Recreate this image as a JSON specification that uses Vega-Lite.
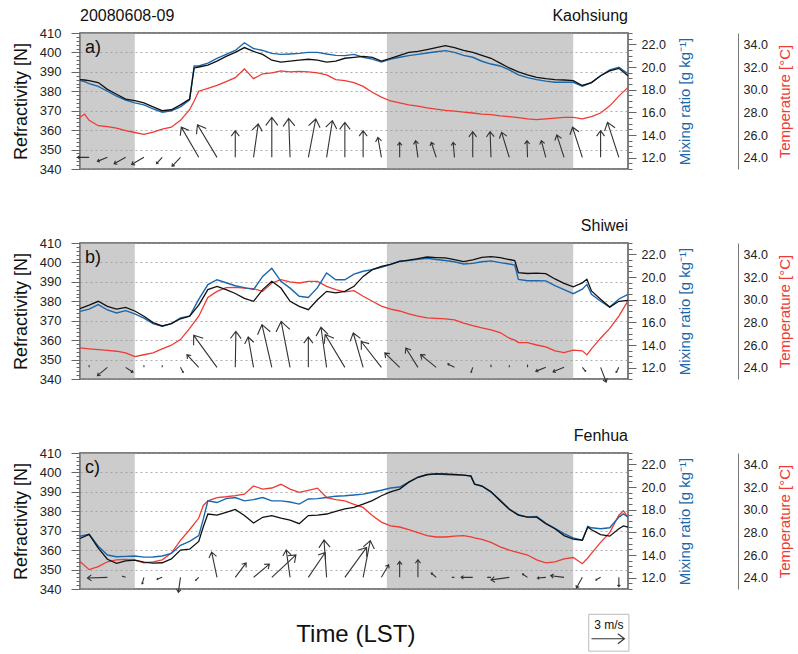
{
"$schema": "https://vega.github.io/schema/vega-lite/v6.json",
"padding": {"left": 11, "top": 7, "right": 0, "bottom": 0},
"config": {
  "font": "Liberation Sans",
  "view": {"stroke": "#555", "strokeWidth": 1.5},
  "axis": {"labelFont": "Liberation Sans", "titleFont": "Liberation Sans", "titleFontWeight": "normal", "labelColor": "#222", "titleColor": "#111"}
},
"datasets": {
  "night": [{"s": 2, "e": 5}, {"s": 18.8, "e": 29}],
  "a": [
{"t":2,"N":386,"q":18.8,"T":27.56},{"t":2.25,"N":385.8,"q":18.71,"T":27.85},{"t":2.5,"N":385.5,"q":18.54,"T":27.29},{"t":3,"N":384.5,"q":18.29,"T":26.82},{"t":3.5,"N":381,"q":17.86,"T":26.74},{"t":4,"N":378.5,"q":17.43,"T":26.6},{"t":4.5,"N":376,"q":17.09,"T":26.38},{"t":5,"N":375.2,"q":16.83,"T":26.22},{"t":5.5,"N":374,"q":16.66,"T":26.05},{"t":6,"N":372,"q":16.31,"T":26.26},{"t":6.5,"N":370,"q":16.01,"T":26.51},{"t":7,"N":370.5,"q":16.14,"T":26.69},{"t":7.5,"N":373,"q":16.49,"T":27.29},{"t":8,"N":376,"q":17.09,"T":28.23},{"t":8.25,"N":392,"q":20.09,"T":29.0},{"t":8.5,"N":392.5,"q":20.09,"T":29.86},{"t":9,"N":393.5,"q":20.34,"T":30.11},{"t":9.5,"N":395.5,"q":20.77,"T":30.37},{"t":10,"N":398,"q":21.11,"T":30.71},{"t":10.5,"N":400,"q":21.46,"T":31.06},{"t":11,"N":402.5,"q":22.14,"T":31.83},{"t":11.5,"N":400.5,"q":21.63,"T":30.97},{"t":12,"N":399,"q":21.46,"T":31.4},{"t":12.5,"N":396,"q":21.2,"T":31.49},{"t":13,"N":395,"q":21.11,"T":31.66},{"t":13.5,"N":395.5,"q":21.15,"T":31.57},{"t":14,"N":396,"q":21.2,"T":31.62},{"t":14.5,"N":396.5,"q":21.29,"T":31.57},{"t":15,"N":396,"q":21.29,"T":31.49},{"t":15.5,"N":395,"q":21.15,"T":31.31},{"t":16,"N":395.5,"q":21.03,"T":30.89},{"t":16.5,"N":397,"q":21.0,"T":30.8},{"t":17,"N":397.5,"q":21.11,"T":30.63},{"t":17.5,"N":398,"q":20.86,"T":30.29},{"t":18,"N":397.5,"q":20.69,"T":29.77},{"t":18.5,"N":395.5,"q":20.43,"T":29.34},{"t":19,"N":397,"q":20.69,"T":29.0},{"t":19.5,"N":398.5,"q":20.86,"T":28.83},{"t":20,"N":400,"q":21.0,"T":28.66},{"t":20.5,"N":400.5,"q":21.11,"T":28.54},{"t":21,"N":401.5,"q":21.23,"T":28.4},{"t":21.5,"N":402.5,"q":21.34,"T":28.28},{"t":22,"N":403.5,"q":21.44,"T":28.18},{"t":22.5,"N":402.5,"q":21.29,"T":28.11},{"t":23,"N":401,"q":21.03,"T":28.02},{"t":23.5,"N":400,"q":20.86,"T":27.94},{"t":24,"N":398.5,"q":20.51,"T":27.85},{"t":24.5,"N":397,"q":20.26,"T":27.8},{"t":25,"N":394.5,"q":20.09,"T":27.68},{"t":25.5,"N":392,"q":19.74,"T":27.63},{"t":26,"N":390,"q":19.31,"T":27.54},{"t":26.5,"N":388.5,"q":19.06,"T":27.42},{"t":27,"N":387.2,"q":18.89,"T":27.35},{"t":27.5,"N":386.5,"q":18.75,"T":27.42},{"t":28,"N":386,"q":18.65,"T":27.49},{"t":28.5,"N":385.8,"q":18.65,"T":27.56},{"t":29,"N":385.5,"q":18.65,"T":27.56},{"t":29.5,"N":383,"q":18.3,"T":27.42},{"t":30,"N":384.5,"q":18.63,"T":27.63},{"t":30.5,"N":388,"q":19.23,"T":27.94},{"t":31,"N":390.5,"q":19.74,"T":28.57},{"t":31.5,"N":391.8,"q":19.97,"T":29.43},{"t":32,"N":388,"q":19.4,"T":30.2}
  ],
  "b": [
{"t":2,"N":376.2,"q":16.97,"T":25.74},{"t":2.5,"N":378,"q":17.17,"T":25.66},{"t":3,"N":380,"q":17.57,"T":25.59},{"t":3.5,"N":377.4,"q":17.09,"T":25.52},{"t":4,"N":376,"q":16.83,"T":25.45},{"t":4.5,"N":376.9,"q":17.03,"T":25.31},{"t":5,"N":375,"q":16.74,"T":24.97},{"t":5.5,"N":372.3,"q":16.38,"T":25.14},{"t":6,"N":369,"q":15.89,"T":25.31},{"t":6.5,"N":367.3,"q":15.65,"T":25.66},{"t":7,"N":368.5,"q":15.89,"T":25.98},{"t":7.5,"N":371,"q":16.4,"T":26.48},{"t":8,"N":372.3,"q":16.54,"T":27.46},{"t":8.5,"N":378,"q":18.03,"T":28.54},{"t":9,"N":386,"q":19.33,"T":30.2},{"t":9.5,"N":387.7,"q":19.76,"T":30.73},{"t":10,"N":386,"q":19.49,"T":31.06},{"t":10.5,"N":384,"q":19.23,"T":31.09},{"t":11,"N":381.5,"q":19.06,"T":31.02},{"t":11.5,"N":380,"q":18.89,"T":30.97},{"t":12,"N":386,"q":20.05,"T":30.73},{"t":12.5,"N":390.3,"q":20.77,"T":31.47},{"t":13,"N":386.8,"q":19.62,"T":31.76},{"t":13.5,"N":380,"q":19.02,"T":31.57},{"t":14,"N":377.4,"q":18.3,"T":31.47},{"t":14.5,"N":375.7,"q":18.2,"T":31.62},{"t":15,"N":380.8,"q":19.06,"T":31.62},{"t":15.5,"N":385.1,"q":20.36,"T":31.18},{"t":16,"N":384.3,"q":19.76,"T":30.89},{"t":16.5,"N":385.1,"q":19.76,"T":30.68},{"t":17,"N":387.7,"q":20.26,"T":30.8},{"t":17.5,"N":392.8,"q":20.51,"T":30.3},{"t":18,"N":396.3,"q":20.65,"T":29.86},{"t":18.5,"N":398,"q":20.86,"T":29.43},{"t":19,"N":399,"q":21.11,"T":29.17},{"t":19.5,"N":400.5,"q":21.39,"T":29.0},{"t":20,"N":401.2,"q":21.46,"T":28.74},{"t":20.5,"N":402,"q":21.56,"T":28.55},{"t":21,"N":402.8,"q":21.65,"T":28.4},{"t":21.5,"N":402.5,"q":21.54,"T":28.35},{"t":22,"N":402.3,"q":21.46,"T":28.3},{"t":22.5,"N":401.5,"q":21.34,"T":28.21},{"t":23,"N":400.4,"q":21.15,"T":27.94},{"t":23.5,"N":401.3,"q":21.2,"T":27.71},{"t":24,"N":402.6,"q":21.34,"T":27.51},{"t":24.5,"N":403,"q":21.42,"T":27.34},{"t":25,"N":402.5,"q":21.27,"T":27.1},{"t":25.5,"N":401.5,"q":21.15,"T":26.6},{"t":25.8,"N":401,"q":21.06,"T":26.43},{"t":26,"N":394.7,"q":19.79,"T":26.21},{"t":26.5,"N":394.3,"q":19.67,"T":26.21},{"t":27,"N":394.5,"q":19.67,"T":26.0},{"t":27.5,"N":394.2,"q":19.66,"T":25.83},{"t":28,"N":391.5,"q":19.23,"T":25.49},{"t":28.5,"N":389.2,"q":18.89,"T":25.33},{"t":29,"N":387.4,"q":18.53,"T":25.54},{"t":29.5,"N":389.5,"q":18.92,"T":25.49},{"t":29.75,"N":391.3,"q":19.35,"T":25.13},{"t":30,"N":385.3,"q":18.47,"T":25.66},{"t":30.5,"N":381,"q":17.86,"T":26.6},{"t":31,"N":377,"q":17.34,"T":27.46},{"t":31.5,"N":380,"q":18.06,"T":28.55},{"t":32,"N":380.5,"q":18.47,"T":29.89}
  ],
  "c": [
{"t":2,"N":366,"q":15.65,"T":25.42},{"t":2.5,"N":368.1,"q":15.82,"T":24.71},{"t":3,"N":361,"q":14.77,"T":24.97},{"t":3.5,"N":355.3,"q":14.0,"T":25.4},{"t":4,"N":353.2,"q":13.85,"T":25.57},{"t":4.5,"N":354.5,"q":13.88,"T":25.62},{"t":5,"N":354.9,"q":13.91,"T":25.55},{"t":5.5,"N":353.8,"q":13.81,"T":25.31},{"t":6,"N":353.3,"q":13.83,"T":25.4},{"t":6.5,"N":353.5,"q":13.91,"T":25.57},{"t":7,"N":355.5,"q":14.14,"T":26.17},{"t":7.5,"N":360,"q":14.86,"T":27.29},{"t":8,"N":360.5,"q":15.2,"T":28.23},{"t":8.5,"N":364.5,"q":15.71,"T":29.26},{"t":8.75,"N":372,"q":17.17,"T":30.37},{"t":9,"N":378.6,"q":18.78,"T":30.78},{"t":9.5,"N":378,"q":18.63,"T":31.07},{"t":10,"N":379.5,"q":18.97,"T":31.14},{"t":10.5,"N":381,"q":19.07,"T":31.23},{"t":11,"N":377.8,"q":18.78,"T":31.37},{"t":11.5,"N":374,"q":18.89,"T":32.09},{"t":12,"N":376.9,"q":19.07,"T":31.81},{"t":12.5,"N":377.8,"q":18.78,"T":31.91},{"t":13,"N":376.5,"q":18.78,"T":32.24},{"t":13.5,"N":375.5,"q":18.68,"T":31.81},{"t":14,"N":373.6,"q":18.49,"T":31.52},{"t":14.5,"N":377.8,"q":18.94,"T":31.71},{"t":15,"N":378,"q":18.97,"T":31.9},{"t":15.5,"N":378.6,"q":19.07,"T":31.07},{"t":16,"N":380,"q":19.19,"T":30.89},{"t":16.5,"N":381.2,"q":19.23,"T":30.78},{"t":17,"N":382,"q":19.3,"T":30.46},{"t":17.5,"N":383.7,"q":19.37,"T":30.2},{"t":18,"N":385.5,"q":19.54,"T":29.48},{"t":18.5,"N":388,"q":19.71,"T":28.9},{"t":19,"N":390,"q":19.91,"T":28.57},{"t":19.5,"N":391.4,"q":20.0,"T":28.47},{"t":20,"N":395,"q":20.43,"T":28.23},{"t":20.5,"N":397.5,"q":20.86,"T":27.97},{"t":21,"N":398.8,"q":21.11,"T":27.71},{"t":21.5,"N":399.3,"q":21.17,"T":27.59},{"t":22,"N":399.2,"q":21.1,"T":27.59},{"t":22.5,"N":399,"q":21.05,"T":27.66},{"t":23,"N":398.6,"q":21.05,"T":27.71},{"t":23.4,"N":398.1,"q":20.98,"T":27.59},{"t":23.6,"N":394,"q":20.26,"T":27.51},{"t":24,"N":393,"q":20.09,"T":27.37},{"t":24.5,"N":390,"q":19.57,"T":27.11},{"t":25,"N":385.4,"q":18.85,"T":26.72},{"t":25.5,"N":381,"q":18.06,"T":26.43},{"t":26,"N":378,"q":17.55,"T":26.21},{"t":26.5,"N":377,"q":17.34,"T":26.0},{"t":27,"N":377,"q":17.39,"T":25.57},{"t":27.5,"N":373.6,"q":16.81,"T":25.31},{"t":28,"N":371,"q":16.35,"T":25.4},{"t":28.5,"N":367.5,"q":15.89,"T":25.66},{"t":29,"N":365.7,"q":15.51,"T":25.78},{"t":29.5,"N":365.1,"q":15.3,"T":25.23},{"t":29.8,"N":371.9,"q":16.52,"T":25.74},{"t":30,"N":370.5,"q":16.4,"T":26.14},{"t":30.5,"N":368,"q":16.31,"T":27.11},{"t":31,"N":367.2,"q":16.4,"T":27.97},{"t":31.5,"N":371,"q":17.34,"T":29.51},{"t":31.75,"N":372.5,"q":17.62,"T":29.91},{"t":32,"N":371.9,"q":17.33,"T":29.33}
  ],
  "wa": [
{"t":2.5,"spd":1.06,"dir":270},{"t":3.5,"spd":0.98,"dir":248},{"t":4.5,"spd":1.2,"dir":241},{"t":5.5,"spd":1.29,"dir":240},{"t":6.5,"spd":0.77,"dir":222},{"t":7.5,"spd":1.12,"dir":223},{"t":8.5,"spd":3.17,"dir":330},{"t":9.5,"spd":3.45,"dir":329},{"t":10.5,"spd":2.42,"dir":0},{"t":11.5,"spd":3.06,"dir":8},{"t":12.5,"spd":3.64,"dir":0},{"t":13.5,"spd":3.55,"dir":358},{"t":14.5,"spd":3.55,"dir":11},{"t":15.5,"spd":3.37,"dir":9},{"t":16.5,"spd":3.18,"dir":0},{"t":17.5,"spd":2.42,"dir":0},{"t":18.5,"spd":1.84,"dir":350},{"t":19.5,"spd":1.36,"dir":0},{"t":20.5,"spd":1.53,"dir":352},{"t":21.5,"spd":1.44,"dir":342},{"t":22.5,"spd":1.37,"dir":355},{"t":23.5,"spd":2.33,"dir":0},{"t":24.5,"spd":2.33,"dir":358},{"t":25.5,"spd":2.38,"dir":343},{"t":26.5,"spd":1.52,"dir":358},{"t":27.5,"spd":1.57,"dir":345},{"t":28.5,"spd":2.14,"dir":342},{"t":29.5,"spd":2.88,"dir":342},{"t":30.5,"spd":2.42,"dir":0},{"t":31.5,"spd":3.34,"dir":342}
  ],
  "wb": [
{"t":2.5,"spd":0.15,"dir":0},{"t":3.5,"spd":1.18,"dir":230},{"t":4.5,"spd":0.8,"dir":124},{"t":5.5,"spd":0.15,"dir":0},{"t":6.5,"spd":0.15,"dir":0},{"t":7.5,"spd":0.52,"dir":152},{"t":8.5,"spd":1.57,"dir":317},{"t":9.5,"spd":3.6,"dir":324},{"t":10.5,"spd":3.27,"dir":1},{"t":11.5,"spd":2.8,"dir":350},{"t":12.5,"spd":3.98,"dir":347},{"t":13.5,"spd":4.25,"dir":349},{"t":14.5,"spd":2.76,"dir":0},{"t":15.5,"spd":3.68,"dir":352},{"t":16.5,"spd":3.48,"dir":329},{"t":17.5,"spd":3.25,"dir":344},{"t":18.5,"spd":2.98,"dir":322},{"t":19.5,"spd":1.88,"dir":314},{"t":20.5,"spd":2.08,"dir":328},{"t":21.5,"spd":1.83,"dir":309},{"t":22.5,"spd":0.68,"dir":297},{"t":23.5,"spd":0.48,"dir":198},{"t":24.5,"spd":0.2,"dir":0},{"t":25.5,"spd":0.15,"dir":0},{"t":26.5,"spd":0.2,"dir":0},{"t":27.5,"spd":0.98,"dir":248},{"t":28.5,"spd":1.08,"dir":248},{"t":29.5,"spd":0.47,"dir":140},{"t":30.5,"spd":1.43,"dir":159},{"t":31.5,"spd":0.52,"dir":208}
  ],
  "wc": [
{"t":3.5,"spd":1.82,"dir":268},{"t":4.5,"spd":0.3,"dir":290},{"t":5.5,"spd":0.62,"dir":195},{"t":6.5,"spd":0.5,"dir":250},{"t":7.5,"spd":1.38,"dir":188},{"t":8.5,"spd":0.4,"dir":225},{"t":9.5,"spd":2.34,"dir":348},{"t":10.5,"spd":1.64,"dir":37},{"t":11.5,"spd":1.88,"dir":50},{"t":12.5,"spd":3.0,"dir":47},{"t":13.5,"spd":2.52,"dir":352},{"t":14.5,"spd":2.73,"dir":34},{"t":15.5,"spd":3.4,"dir":356},{"t":16.5,"spd":3.36,"dir":36},{"t":17.5,"spd":3.4,"dir":11},{"t":18.5,"spd":1.32,"dir":30},{"t":19.5,"spd":1.45,"dir":0},{"t":20.5,"spd":1.6,"dir":0},{"t":21.5,"spd":0.6,"dir":311},{"t":22.5,"spd":0.2,"dir":270},{"t":23.5,"spd":1.06,"dir":270},{"t":24.5,"spd":0.3,"dir":270},{"t":25.5,"spd":1.68,"dir":262},{"t":26.5,"spd":0.55,"dir":304},{"t":27.5,"spd":0.76,"dir":265},{"t":28.5,"spd":1.22,"dir":277},{"t":29.5,"spd":1.11,"dir":209},{"t":30.5,"spd":0.5,"dir":240},{"t":31.5,"spd":0.85,"dir":180}
  ]
},
"bounds": "flush",
"spacing": 74,
"resolve": {"scale": {"x": "independent", "y": "independent", "size": "independent", "angle": "independent"}},
"vconcat": [
 {
  "width": 548, "height": 136,
  "resolve": {"scale": {"y": "independent"}},
  "layer": [
   {"data": {"name": "night"}, "mark": {"type": "rect", "color": "#999", "opacity": 0.5},
    "encoding": {"x": {"field": "s", "type": "quantitative", "scale": {"domain": [2, 32], "nice": false, "zero": false},
      "axis": {"values": [2,3,4,5,6,7,8,9,10,11,12,13,14,15,16,17,18,19,20,21,22,23,24,25,26,27,28,29,30,31,32], "labelExpr": "(datum.value - 2) % 3 == 0 ? '' + (datum.value % 24) : ''", "grid": true, "gridDash": [2, 3], "gridColor": "#999", "gridOpacity": 0.8, "tickSize": 8, "tickColor": "#666", "domain": false, "labelFontSize": 13.5, "labelPadding": 4, "labelFlush": false, "labelOverlap": false, "title": null}},
     "x2": {"field": "e"}}},
   {"data": {"name": "a"}, "mark": {"type": "line", "color": "#ee3b34", "strokeWidth": 1.3},
    "encoding": {"x": {"field": "t", "type": "quantitative", "axis": null},
     "y": {"field": "T", "type": "quantitative", "scale": {"domain": [23, 35], "nice": false, "zero": false},
      "axis": {"orient": "right", "offset": 110, "values": [24, 26, 28, 30, 32, 34], "format": ".1f", "ticks": false, "domain": true, "domainColor": "#777", "grid": false, "labelPadding": 5, "labelFontSize": 12.5, "title": "Temperature [°C]", "titleColor": "#ee3b34", "titleFontSize": 15, "titleAngle": 270, "titleBaseline": "top", "titlePadding": 10}}}},
   {"data": {"name": "a"}, "mark": {"type": "line", "color": "#1a67ad", "strokeWidth": 1.4},
    "encoding": {"x": {"field": "t", "type": "quantitative", "axis": null},
     "y": {"field": "q", "type": "quantitative", "scale": {"domain": [11, 23], "nice": false, "zero": false},
      "axis": {"orient": "right", "values": [11,11.5,12,12.5,13,13.5,14,14.5,15,15.5,16,16.5,17,17.5,18,18.5,19,19.5,20,20.5,21,21.5,22,22.5,23], "labelExpr": "datum.value % 2 == 0 ? format(datum.value, '.1f') : ''", "tickSize": {"condition": {"test": "datum.value % 2 == 0", "value": 8}, "value": 4}, "tickColor": "#666", "domain": false, "grid": false, "labelFontSize": 12.5, "labelPadding": 5, "labelFlush": false, "labelOverlap": false, "title": "Mixing ratio [g kg⁻¹]", "titleColor": "#1a67ad", "titleFontSize": 15, "titleAngle": 270, "titleBaseline": "top", "titlePadding": 12}}}},
   {"data": {"name": "a"}, "mark": {"type": "line", "color": "#111", "strokeWidth": 1.3},
    "encoding": {"x": {"field": "t", "type": "quantitative", "axis": null},
     "y": {"field": "N", "type": "quantitative", "scale": {"domain": [340, 410], "nice": false, "zero": false},
      "axis": {"values": [340,342,344,346,348,350,352,354,356,358,360,362,364,366,368,370,372,374,376,378,380,382,384,386,388,390,392,394,396,398,400,402,404,406,408,410], "labelExpr": "datum.value % 10 == 0 ? '' + datum.value : ''", "tickSize": {"condition": {"test": "datum.value % 10 == 0", "value": 9}, "value": 4}, "tickColor": "#666", "grid": true, "gridDash": [2, 3], "gridColor": "#999", "gridOpacity": {"condition": {"test": "datum.value % 10 == 0", "value": 0.8}, "value": 0}, "domain": false, "labelFontSize": 13, "labelPadding": 10, "labelFlush": false, "labelOverlap": false, "title": "Refractivity [N]", "titleFontSize": 18, "titlePadding": 9}}}},
   {"data": {"name": "wa"}, "mark": {"type": "point", "shape": "M0,0L0,-1M-0.15,-0.8L0,-1L0.15,-0.8", "filled": false, "stroke": "#333", "strokeWidth": 1.1, "opacity": 1},
    "encoding": {"x": {"field": "t", "type": "quantitative", "axis": null},
     "y": {"datum": 346, "type": "quantitative", "scale": {"domain": [340, 410], "nice": false, "zero": false}, "axis": null},
     "size": {"field": "spd", "type": "quantitative", "scale": {"type": "pow", "exponent": 2, "domain": [0, 3], "range": [0, 4356]}, "legend": null},
     "angle": {"field": "dir", "type": "quantitative", "scale": {"domain": [0, 360], "range": [0, 360]}, "legend": null}}},
   {"data": {"values": [{"lab": "a)"}]}, "mark": {"type": "text", "fontSize": 18, "align": "left", "baseline": "top", "dx": 5, "dy": 6, "color": "#111"},
    "encoding": {"x": {"datum": 2, "type": "quantitative", "axis": null}, "y": {"datum": 410, "type": "quantitative", "scale": {"domain": [340, 410], "nice": false, "zero": false}, "axis": null}, "text": {"field": "lab"}}},
   {"data": {"values": [{"lab": "20080608-09"}]}, "mark": {"type": "text", "fontSize": 16, "align": "left", "baseline": "alphabetic", "dy": -12, "color": "#111"},
    "encoding": {"x": {"datum": 2, "type": "quantitative", "axis": null}, "y": {"datum": 410, "type": "quantitative", "scale": {"domain": [340, 410], "nice": false, "zero": false}, "axis": null}, "text": {"field": "lab"}}},
   {"data": {"values": [{"lab": "Kaohsiung"}]}, "mark": {"type": "text", "fontSize": 16, "align": "right", "baseline": "alphabetic", "dy": -12, "color": "#111"},
    "encoding": {"x": {"datum": 32, "type": "quantitative", "axis": null}, "y": {"datum": 410, "type": "quantitative", "scale": {"domain": [340, 410], "nice": false, "zero": false}, "axis": null}, "text": {"field": "lab"}}}
  ]
 },
 {
  "width": 548, "height": 136,
  "resolve": {"scale": {"y": "independent"}},
  "layer": [
   {"data": {"name": "night"}, "mark": {"type": "rect", "color": "#999", "opacity": 0.5},
    "encoding": {"x": {"field": "s", "type": "quantitative", "scale": {"domain": [2, 32], "nice": false, "zero": false},
      "axis": {"values": [2,3,4,5,6,7,8,9,10,11,12,13,14,15,16,17,18,19,20,21,22,23,24,25,26,27,28,29,30,31,32], "labelExpr": "(datum.value - 2) % 3 == 0 ? '' + (datum.value % 24) : ''", "grid": true, "gridDash": [2, 3], "gridColor": "#999", "gridOpacity": 0.8, "tickSize": 8, "tickColor": "#666", "domain": false, "labelFontSize": 13.5, "labelPadding": 4, "labelFlush": false, "labelOverlap": false, "title": null}},
     "x2": {"field": "e"}}},
   {"data": {"name": "b"}, "mark": {"type": "line", "color": "#ee3b34", "strokeWidth": 1.3},
    "encoding": {"x": {"field": "t", "type": "quantitative", "axis": null},
     "y": {"field": "T", "type": "quantitative", "scale": {"domain": [23, 35], "nice": false, "zero": false},
      "axis": {"orient": "right", "offset": 110, "values": [24, 26, 28, 30, 32, 34], "format": ".1f", "ticks": false, "domain": true, "domainColor": "#777", "grid": false, "labelPadding": 5, "labelFontSize": 12.5, "title": "Temperature [°C]", "titleColor": "#ee3b34", "titleFontSize": 15, "titleAngle": 270, "titleBaseline": "top", "titlePadding": 10}}}},
   {"data": {"name": "b"}, "mark": {"type": "line", "color": "#1a67ad", "strokeWidth": 1.4},
    "encoding": {"x": {"field": "t", "type": "quantitative", "axis": null},
     "y": {"field": "q", "type": "quantitative", "scale": {"domain": [11, 23], "nice": false, "zero": false},
      "axis": {"orient": "right", "values": [11,11.5,12,12.5,13,13.5,14,14.5,15,15.5,16,16.5,17,17.5,18,18.5,19,19.5,20,20.5,21,21.5,22,22.5,23], "labelExpr": "datum.value % 2 == 0 ? format(datum.value, '.1f') : ''", "tickSize": {"condition": {"test": "datum.value % 2 == 0", "value": 8}, "value": 4}, "tickColor": "#666", "domain": false, "grid": false, "labelFontSize": 12.5, "labelPadding": 5, "labelFlush": false, "labelOverlap": false, "title": "Mixing ratio [g kg⁻¹]", "titleColor": "#1a67ad", "titleFontSize": 15, "titleAngle": 270, "titleBaseline": "top", "titlePadding": 12}}}},
   {"data": {"name": "b"}, "mark": {"type": "line", "color": "#111", "strokeWidth": 1.3},
    "encoding": {"x": {"field": "t", "type": "quantitative", "axis": null},
     "y": {"field": "N", "type": "quantitative", "scale": {"domain": [340, 410], "nice": false, "zero": false},
      "axis": {"values": [340,342,344,346,348,350,352,354,356,358,360,362,364,366,368,370,372,374,376,378,380,382,384,386,388,390,392,394,396,398,400,402,404,406,408,410], "labelExpr": "datum.value % 10 == 0 ? '' + datum.value : ''", "tickSize": {"condition": {"test": "datum.value % 10 == 0", "value": 9}, "value": 4}, "tickColor": "#666", "grid": true, "gridDash": [2, 3], "gridColor": "#999", "gridOpacity": {"condition": {"test": "datum.value % 10 == 0", "value": 0.8}, "value": 0}, "domain": false, "labelFontSize": 13, "labelPadding": 10, "labelFlush": false, "labelOverlap": false, "title": "Refractivity [N]", "titleFontSize": 18, "titlePadding": 9}}}},
   {"data": {"name": "wb"}, "mark": {"type": "point", "shape": "M0,0L0,-1M-0.15,-0.8L0,-1L0.15,-0.8", "filled": false, "stroke": "#333", "strokeWidth": 1.1, "opacity": 1},
    "encoding": {"x": {"field": "t", "type": "quantitative", "axis": null},
     "y": {"datum": 346, "type": "quantitative", "scale": {"domain": [340, 410], "nice": false, "zero": false}, "axis": null},
     "size": {"field": "spd", "type": "quantitative", "scale": {"type": "pow", "exponent": 2, "domain": [0, 3], "range": [0, 4356]}, "legend": null},
     "angle": {"field": "dir", "type": "quantitative", "scale": {"domain": [0, 360], "range": [0, 360]}, "legend": null}}},
   {"data": {"values": [{"lab": "b)"}]}, "mark": {"type": "text", "fontSize": 18, "align": "left", "baseline": "top", "dx": 5, "dy": 6, "color": "#111"},
    "encoding": {"x": {"datum": 2, "type": "quantitative", "axis": null}, "y": {"datum": 410, "type": "quantitative", "scale": {"domain": [340, 410], "nice": false, "zero": false}, "axis": null}, "text": {"field": "lab"}}},
   {"data": {"values": [{"lab": "Shiwei"}]}, "mark": {"type": "text", "fontSize": 16, "align": "right", "baseline": "alphabetic", "dy": -12, "color": "#111"},
    "encoding": {"x": {"datum": 32, "type": "quantitative", "axis": null}, "y": {"datum": 410, "type": "quantitative", "scale": {"domain": [340, 410], "nice": false, "zero": false}, "axis": null}, "text": {"field": "lab"}}}
  ]
 },
 {
  "width": 548, "height": 136,
  "resolve": {"scale": {"y": "independent"}},
  "layer": [
   {"data": {"name": "night"}, "mark": {"type": "rect", "color": "#999", "opacity": 0.5},
    "encoding": {"x": {"field": "s", "type": "quantitative", "scale": {"domain": [2, 32], "nice": false, "zero": false},
      "axis": {"values": [2,3,4,5,6,7,8,9,10,11,12,13,14,15,16,17,18,19,20,21,22,23,24,25,26,27,28,29,30,31,32], "labelExpr": "(datum.value - 2) % 3 == 0 ? '' + (datum.value % 24) : ''", "grid": true, "gridDash": [2, 3], "gridColor": "#999", "gridOpacity": 0.8, "tickSize": 8, "tickColor": "#666", "domain": false, "labelFontSize": 13.5, "labelPadding": 4, "labelFlush": false, "labelOverlap": false, "title": null}},
     "x2": {"field": "e"}}},
   {"data": {"name": "c"}, "mark": {"type": "line", "color": "#ee3b34", "strokeWidth": 1.3},
    "encoding": {"x": {"field": "t", "type": "quantitative", "axis": null},
     "y": {"field": "T", "type": "quantitative", "scale": {"domain": [23, 35], "nice": false, "zero": false},
      "axis": {"orient": "right", "offset": 110, "values": [24, 26, 28, 30, 32, 34], "format": ".1f", "ticks": false, "domain": true, "domainColor": "#777", "grid": false, "labelPadding": 5, "labelFontSize": 12.5, "title": "Temperature [°C]", "titleColor": "#ee3b34", "titleFontSize": 15, "titleAngle": 270, "titleBaseline": "top", "titlePadding": 10}}}},
   {"data": {"name": "c"}, "mark": {"type": "line", "color": "#1a67ad", "strokeWidth": 1.4},
    "encoding": {"x": {"field": "t", "type": "quantitative", "axis": null},
     "y": {"field": "q", "type": "quantitative", "scale": {"domain": [11, 23], "nice": false, "zero": false},
      "axis": {"orient": "right", "values": [11,11.5,12,12.5,13,13.5,14,14.5,15,15.5,16,16.5,17,17.5,18,18.5,19,19.5,20,20.5,21,21.5,22,22.5,23], "labelExpr": "datum.value % 2 == 0 ? format(datum.value, '.1f') : ''", "tickSize": {"condition": {"test": "datum.value % 2 == 0", "value": 8}, "value": 4}, "tickColor": "#666", "domain": false, "grid": false, "labelFontSize": 12.5, "labelPadding": 5, "labelFlush": false, "labelOverlap": false, "title": "Mixing ratio [g kg⁻¹]", "titleColor": "#1a67ad", "titleFontSize": 15, "titleAngle": 270, "titleBaseline": "top", "titlePadding": 12}}}},
   {"data": {"name": "c"}, "mark": {"type": "line", "color": "#111", "strokeWidth": 1.3},
    "encoding": {"x": {"field": "t", "type": "quantitative", "axis": null},
     "y": {"field": "N", "type": "quantitative", "scale": {"domain": [340, 410], "nice": false, "zero": false},
      "axis": {"values": [340,342,344,346,348,350,352,354,356,358,360,362,364,366,368,370,372,374,376,378,380,382,384,386,388,390,392,394,396,398,400,402,404,406,408,410], "labelExpr": "datum.value % 10 == 0 ? '' + datum.value : ''", "tickSize": {"condition": {"test": "datum.value % 10 == 0", "value": 9}, "value": 4}, "tickColor": "#666", "grid": true, "gridDash": [2, 3], "gridColor": "#999", "gridOpacity": {"condition": {"test": "datum.value % 10 == 0", "value": 0.8}, "value": 0}, "domain": false, "labelFontSize": 13, "labelPadding": 10, "labelFlush": false, "labelOverlap": false, "title": "Refractivity [N]", "titleFontSize": 18, "titlePadding": 9}}}},
   {"data": {"name": "wc"}, "mark": {"type": "point", "shape": "M0,0L0,-1M-0.15,-0.8L0,-1L0.15,-0.8", "filled": false, "stroke": "#333", "strokeWidth": 1.1, "opacity": 1},
    "encoding": {"x": {"field": "t", "type": "quantitative", "axis": null},
     "y": {"datum": 346, "type": "quantitative", "scale": {"domain": [340, 410], "nice": false, "zero": false}, "axis": null},
     "size": {"field": "spd", "type": "quantitative", "scale": {"type": "pow", "exponent": 2, "domain": [0, 3], "range": [0, 4356]}, "legend": null},
     "angle": {"field": "dir", "type": "quantitative", "scale": {"domain": [0, 360], "range": [0, 360]}, "legend": null}}},
   {"data": {"values": [{"lab": "c)"}]}, "mark": {"type": "text", "fontSize": 18, "align": "left", "baseline": "top", "dx": 5, "dy": 6, "color": "#111"},
    "encoding": {"x": {"datum": 2, "type": "quantitative", "axis": null}, "y": {"datum": 410, "type": "quantitative", "scale": {"domain": [340, 410], "nice": false, "zero": false}, "axis": null}, "text": {"field": "lab"}}},
   {"data": {"values": [{"lab": "Fenhua"}]}, "mark": {"type": "text", "fontSize": 16, "align": "right", "baseline": "alphabetic", "dy": -12, "color": "#111"},
    "encoding": {"x": {"datum": 32, "type": "quantitative", "axis": null}, "y": {"datum": 410, "type": "quantitative", "scale": {"domain": [340, 410], "nice": false, "zero": false}, "axis": null}, "text": {"field": "lab"}}},
   {"data": {"values": [{"lab": "Time (LST)"}]}, "mark": {"type": "text", "fontSize": 24, "align": "center", "baseline": "middle", "color": "#111"},
    "encoding": {"x": {"datum": 17.1, "type": "quantitative", "axis": null}, "y": {"datum": 316.3, "type": "quantitative", "scale": {"domain": [340, 410], "nice": false, "zero": false}, "axis": null}, "text": {"field": "lab"}}},
   {"data": {"values": [{"lab": "3 m/s"}]}, "mark": {"type": "rect", "filled": false, "stroke": "#bbb", "strokeWidth": 1},
    "encoding": {"x": {"datum": 29.85, "type": "quantitative", "axis": null}, "x2": {"datum": 32.05}, "y": {"datum": 327, "type": "quantitative", "scale": {"domain": [340, 410], "nice": false, "zero": false}, "axis": null}, "y2": {"datum": 308}}},
   {"data": {"values": [{"lab": "3 m/s"}]}, "mark": {"type": "text", "fontSize": 12, "align": "center", "baseline": "middle", "color": "#111"},
    "encoding": {"x": {"datum": 30.95, "type": "quantitative", "axis": null}, "y": {"datum": 321.5, "type": "quantitative", "scale": {"domain": [340, 410], "nice": false, "zero": false}, "axis": null}, "text": {"field": "lab"}}},
   {"data": {"values": [{"spd": 3, "dir": 90}]}, "mark": {"type": "point", "shape": "M0,0L0,-1M-0.15,-0.8L0,-1L0.15,-0.8", "filled": false, "stroke": "#333", "strokeWidth": 1.1, "opacity": 1},
    "encoding": {"x": {"datum": 30.0, "type": "quantitative", "axis": null},
     "y": {"datum": 314.4, "type": "quantitative", "scale": {"domain": [340, 410], "nice": false, "zero": false}, "axis": null},
     "size": {"field": "spd", "type": "quantitative", "scale": {"type": "pow", "exponent": 2, "domain": [0, 3], "range": [0, 4356]}, "legend": null},
     "angle": {"field": "dir", "type": "quantitative", "scale": {"domain": [0, 360], "range": [0, 360]}, "legend": null}}}
  ]
 }
]
}
